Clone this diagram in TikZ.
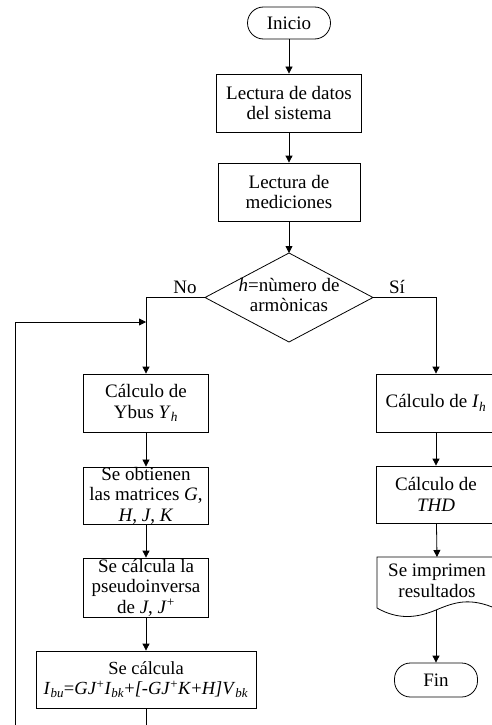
\documentclass[tikz,border=0pt]{standalone}
\usepackage{fontspec}
\setmainfont{Liberation Serif}
\usetikzlibrary{arrows.meta}
\usetikzlibrary{shapes,positioning}

\begin{document}
\begin{tikzpicture}[x = 1pt, y = -1pt]
            \tikzstyle{arrow} = [line width = 0.8pt,->,>={Triangle[length=7pt,width=7pt]}]
            \tikzstyle{proc} = [draw, line width = 0.8pt, align = center, inner sep = 0pt,
                                font = \fontsize{19}{20.5}\selectfont]
            \tikzstyle{term} = [proc, rounded corners = 16pt]
            \tikzstyle{lbl} = [font = \fontsize{19}{20.5}\selectfont]
            \clip (0, 0) rectangle (492, 725);

            \node[term, minimum width = 83pt, minimum height = 32pt] (inicio) at (289, 23) {Inicio};
            \node[proc, minimum width = 145pt, minimum height = 58pt] (datos) at (289, 103) {Lectura de datos\\del sistema};
            \node[proc, minimum width = 142pt, minimum height = 58pt] (medic) at (289, 192) {Lectura de\\mediciones};

            % decision
            \coordinate (decT) at (289, 253);
            \coordinate (decB) at (289, 342);
            \coordinate (decL) at (205, 297.5);
            \coordinate (decR) at (373, 297.5);
            \draw [line width = 0.8pt] (decT) -- (decR) -- (decB) -- (decL) -- cycle;
            \node[lbl, align = center] (dec) at (289, 295) {\textit{h}=nùmero de\\armònicas};
            \node[lbl] (no) at (185, 287) {No};
            \node[lbl] (si) at (397, 287) {Sí};

            % left branch
            \node[proc, minimum width = 125pt, minimum height = 58pt] (ybus) at (146, 403) {Cálculo de\\Ybus \textit{Y}\textsubscript{\textit{h}}};
            \node[proc, minimum width = 125pt, minimum height = 57pt] (mat) at (146, 495.5) {Se obtienen\\las matrices \textit{G},\\\textit{H}, \textit{J}, \textit{K}};
            \node[proc, minimum width = 125pt, minimum height = 59pt] (pinv) at (146, 587.5) {Se cálcula la\\pseudoinversa\\de \textit{J}, \textit{J}\textsuperscript{+}};
            \node[proc, minimum width = 220pt, minimum height = 57pt, font = \fontsize{18.5}{20.5}\selectfont] (ibu) at (146, 679.5) {Se cálcula\\\textit{I}\textsubscript{\textit{bu}}=\textit{GJ}\textsuperscript{+}\textit{I}\textsubscript{\textit{bk}}+\textit{[-GJ}\textsuperscript{+}\textit{K}+\textit{H]V}\textsubscript{\textit{bk}}};

            % right branch
            \node[proc, minimum width = 120pt, minimum height = 58pt] (ih) at (436, 403) {Cálculo de \textit{I}\textsubscript{\textit{h}}};
            \node[proc, minimum width = 120pt, minimum height = 57pt] (thd) at (436, 494.5) {Cálculo de\\\textit{THD}};
            \draw [line width = 0.8pt] (377, 557) -- (497, 557) -- (497, 609)
                .. controls (470, 597) and (455, 602) .. (436, 610)
                .. controls (417, 618) and (398, 620) .. (377, 608) -- cycle;
            \node[lbl, align = center] (doc) at (437, 581) {Se imprimen\\resultados};
            \coordinate (docB) at (436, 610);
            \node[term, minimum width = 83pt, minimum height = 34pt] (fin) at (436, 680) {Fin};

            \draw [arrow] (inicio) -- (datos);
            \draw [arrow] (datos) -- (medic);
            \draw [arrow] (medic) -- (decT);
            \draw [arrow] (decL) -| (ybus);
            \draw [arrow] (decR) -| (ih);
            \draw [arrow] (ybus) -- (mat);
            \draw [arrow] (mat) -- (pinv);
            \draw [arrow] (pinv) -- (ibu);
            \draw [arrow] (ih) -- (thd);
            \draw [arrow] (thd) -- (doc.north |- 0, 557);
            \draw [arrow] (docB) -- (fin);

            % loop back
            \coordinate (join) at (146, 322);
            \coordinate (loopB) at (146, 740);
            \draw [arrow] (ibu) -- (loopB) -| (15, 322) -- (join);
        \end{tikzpicture}
\end{document}
